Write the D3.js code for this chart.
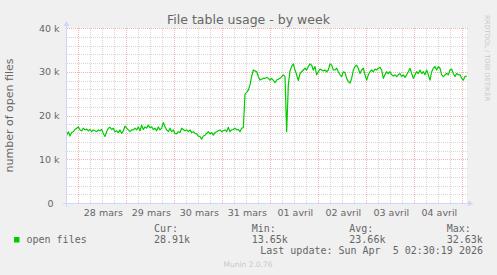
<!DOCTYPE html>
<html>
<head>
<meta charset="utf-8">
<script src="https://cdn.jsdelivr.net/npm/d3@7"></script>
<style>
  html, body { margin: 0; padding: 0; background: #F0F0F0; }
  svg { display: block; }
</style>
</head>
<body>
<svg id="chart" width="497" height="275"></svg>
<script>
// ---- data ----
const title = "File table usage - by week";
const yAxisTitle = "number of open files";
const seriesName = "open files";
// samples every 50 minutes starting 27 mars 18:10 (values in thousands of open files)
const openFilesK = [
  15.5,16.3,15.3,16.1,16.3,16.8,17.1,17.4,16.7,16.5,
  17.1,16.7,16.9,16.5,16.8,16.3,16.7,16.5,16.3,16.7,
  16.5,16.8,15.9,15.2,16.3,17.1,17.3,16.8,17.1,16.3,
  16.5,16.1,16.7,15.9,16.5,17.6,17.1,16.7,16.3,16.7,
  16.7,17.1,16.7,17.4,16.5,17.8,16.8,17.4,17.1,17.8,
  17.2,17.4,16.8,17.1,16.5,17.4,16.7,17.1,18.4,17.4,
  16.7,16.3,17.1,16.3,16.7,15.9,15.8,16.3,16.1,17.1,
  16.8,16.5,16.7,16.3,16.7,16.1,16.3,15.9,15.8,15.3,
  15.2,14.6,15.3,15.5,15.9,16.3,15.8,16.1,15.5,16.1,
  16.3,16.5,16.7,16.3,16.5,16.7,16.3,17.3,16.3,16.7,
  16.8,17.1,16.7,16.8,16.3,17.1,17.2,24.9,25.3,25.8,
  27.0,29.0,30.4,30.2,30.0,28.9,28.1,28.3,28.5,28.5,
  28.7,28.5,28.1,28.5,28.0,27.5,28.1,28.3,28.5,28.9,
  29.3,28.9,16.3,27.0,30.2,31.2,31.8,30.4,29.3,28.0,
  29.6,30.0,30.4,30.8,30.4,31.2,31.8,31.5,30.4,31.2,
  29.3,30.0,30.6,30.4,30.2,30.4,30.0,30.4,31.8,31.5,
  30.4,30.4,30.8,30.0,29.3,28.9,30.0,29.8,28.5,27.7,
  27.4,28.5,30.4,31.2,31.5,30.8,29.6,30.4,30.8,29.3,
  28.1,29.3,30.0,30.4,30.0,30.6,30.4,30.8,31.0,30.4,
  28.5,29.3,30.0,29.6,30.0,29.3,29.0,29.3,28.9,29.3,
  29.6,28.9,29.3,28.7,29.3,30.0,30.8,29.6,28.5,29.3,
  30.0,29.6,30.4,29.6,30.0,29.3,30.4,29.3,28.1,30.0,
  30.8,31.2,30.4,31.2,30.8,29.3,28.9,29.3,29.6,29.3,
  30.4,30.6,29.6,28.9,29.6,29.3,29.3,28.5,28.1,28.9,
  29.0
];
const sampleStart = new Date(2026, 2, 27, 18, 10);
const sampleStepMin = 50;
const viewStart = new Date(2026, 2, 27, 18, 20);
const viewEnd = new Date(2026, 3, 5, 2, 20);

const yTicks = [0, 10, 20, 30, 40];
const yTickLabels = ["0", "10 k", "20 k", "30 k", "40 k"];
const yMinorStep = 2;
const xDayLabels = ["28 mars", "29 mars", "30 mars", "31 mars", "01 avril", "02 avril", "03 avril", "04 avril"];

const legendHeaders = ["Cur:", "Min:", "Avg:", "Max:"];
const legendValues = ["28.91k", "13.65k", "23.66k", "32.63k"];
const lastUpdate = "Last update: Sun Apr  5 02:30:19 2026";
const footer = "Munin 2.0.76";
const watermark = "RRDTOOL / TOBI OETIKER";

// ---- drawing ----
const svg = d3.select("#chart");
const L = 67, R = 467, T = 28, B = 203;
const fontColor = "#666666";
const axisColor = "#CFD6F8";
const gridColor = "#D6D6D6";
const mgridColor = "#F5B0B0";
const lineColor = "#00CC00";

const x = d3.scaleTime().domain([viewStart, viewEnd]).range([L, R]);
const y = d3.scaleLinear().domain([0, 40]).range([B, T]);

svg.append("rect").attr("x", 0).attr("y", 0).attr("width", 497).attr("height", 275).attr("fill", "#F0F0F0");
svg.append("rect").attr("x", L).attr("y", T).attr("width", R - L).attr("height", B - T).attr("fill", "#FFFFFF");

const grid = svg.append("g").attr("shape-rendering", "crispEdges");
// minor horizontal
const yMinor = d3.range(0, 40 + 0.001, yMinorStep).filter(v => !yTicks.includes(v));
grid.selectAll(".hmin").data(yMinor).join("line")
  .attr("x1", L).attr("x2", R + 1)
  .attr("y1", d => Math.round(y(d)) + 0.5).attr("y2", d => Math.round(y(d)) + 0.5)
  .attr("stroke", gridColor).attr("stroke-dasharray", "1,1");
// minor vertical (6h)
const xMinor = d3.timeHour.every(6).range(viewStart, viewEnd).filter(d => d.getHours() !== 0);
grid.selectAll(".vmin").data(xMinor).join("line")
  .attr("x1", d => Math.round(x(d)) + 0.5).attr("x2", d => Math.round(x(d)) + 0.5)
  .attr("y1", T).attr("y2", B)
  .attr("stroke", gridColor).attr("stroke-dasharray", "1,1");
// major horizontal
grid.selectAll(".hmaj").data(yTicks.filter(v => v > 0)).join("line")
  .attr("x1", L).attr("x2", R + 1)
  .attr("y1", d => Math.round(y(d)) + 0.5).attr("y2", d => Math.round(y(d)) + 0.5)
  .attr("stroke", mgridColor).attr("stroke-dasharray", "1,1");
// major vertical (days)
const days = d3.timeDay.range(viewStart, viewEnd);
grid.selectAll(".vmaj").data(days).join("line")
  .attr("x1", d => Math.round(x(d)) + 0.5).attr("x2", d => Math.round(x(d)) + 0.5)
  .attr("y1", T).attr("y2", B)
  .attr("stroke", mgridColor).attr("stroke-dasharray", "1,1");

// axes
const ax = svg.append("g");
ax.append("line").attr("x1", L - 4).attr("x2", R + 2).attr("y1", B + 0.5).attr("y2", B + 0.5)
  .attr("stroke", axisColor).attr("shape-rendering", "crispEdges");
ax.append("path").attr("d", `M${R + 1},${B - 2.5} L${R + 6.5},${B + 0.5} L${R + 1},${B + 3.5} Z`).attr("fill", axisColor);
ax.append("line").attr("x1", L - 0.5).attr("x2", L - 0.5).attr("y1", B + 4).attr("y2", T - 3)
  .attr("stroke", axisColor).attr("shape-rendering", "crispEdges");
ax.append("path").attr("d", `M${L - 3.5},${T - 2} L${L - 0.5},${T - 7} L${L + 2.5},${T - 2} Z`).attr("fill", axisColor);

// y tick labels
svg.append("g").selectAll("text").data(yTicks).join("text")
  .attr("x", (d, i) => i === 0 ? 53.5 : 59.5)
  .attr("y", d => y(d) + 3.5)
  .attr("text-anchor", "end")
  .attr("font-family", "DejaVu Sans").attr("font-size", 9.5).attr("fill", fontColor)
  .text((d, i) => yTickLabels[i]);

// x tick labels at noon
svg.append("g").selectAll("text").data(days).join("text")
  .attr("x", d => x(d3.timeHour.offset(d, 12)) + 1)
  .attr("y", 216)
  .attr("text-anchor", "middle")
  .attr("font-family", "DejaVu Sans").attr("font-size", 9.5).attr("fill", fontColor)
  .text((d, i) => xDayLabels[i]);

// line
const pts = openFilesK.map((v, i) => ({ t: new Date(sampleStart.getTime() + i * sampleStepMin * 60000), v }));
svg.append("clipPath").attr("id", "clip").append("rect").attr("x", L).attr("y", T - 2).attr("width", R - L).attr("height", B - T + 2);
svg.append("path").datum(pts)
  .attr("clip-path", "url(#clip)")
  .attr("fill", "none").attr("stroke", lineColor).attr("stroke-width", 1.2)
  .attr("stroke-linejoin", "round")
  .attr("d", d3.line().x(d => x(d.t)).y(d => y(d.v)));

// title
svg.append("text").attr("x", 248.5).attr("y", 24).attr("text-anchor", "middle")
  .attr("font-family", "DejaVu Sans").attr("font-size", 12.5).attr("fill", fontColor).text(title);

// y axis title
svg.append("text").attr("transform", `translate(13,${(T + B) / 2}) rotate(-90)`)
  .attr("text-anchor", "middle")
  .attr("font-family", "DejaVu Sans").attr("font-size", 11).attr("fill", fontColor).text(yAxisTitle);

// watermark
svg.append("text").attr("transform", "translate(485,15) rotate(90)")
  .attr("font-family", "DejaVu Sans").attr("font-size", 6.7).attr("fill", "#C8C8C8").text(watermark);

// legend
const mono = "DejaVu Sans Mono";
svg.append("rect").attr("x", 14).attr("y", 237).attr("width", 5.5).attr("height", 5.5).attr("fill", lineColor);
svg.append("text").attr("x", 26.5).attr("y", 242.5).attr("font-family", mono).attr("font-size", 10).attr("fill", fontColor).text(seriesName);
const colX = [154, 251.7, 349.3, 446.7];
svg.append("g").selectAll("text").data(legendHeaders).join("text")
  .attr("x", (d, i) => colX[i]).attr("y", 231.5)
  .attr("font-family", mono).attr("font-size", 10).attr("fill", fontColor).text(d => d);
svg.append("g").selectAll("text").data(legendValues).join("text")
  .attr("x", (d, i) => colX[i]).attr("y", 242.5)
  .attr("font-family", mono).attr("font-size", 10).attr("fill", fontColor).text(d => d);
svg.append("text").attr("x", 483).attr("y", 254.3).attr("text-anchor", "end")
  .attr("xml:space", "preserve").style("white-space", "pre")
  .attr("font-family", mono).attr("font-size", 10).attr("fill", fontColor).text(lastUpdate);
svg.append("text").attr("x", 248).attr("y", 266.5).attr("text-anchor", "middle")
  .attr("font-family", "DejaVu Sans").attr("font-size", 7.5).attr("fill", "#C8C8C8").text(footer);
</script>
</body>
</html>
